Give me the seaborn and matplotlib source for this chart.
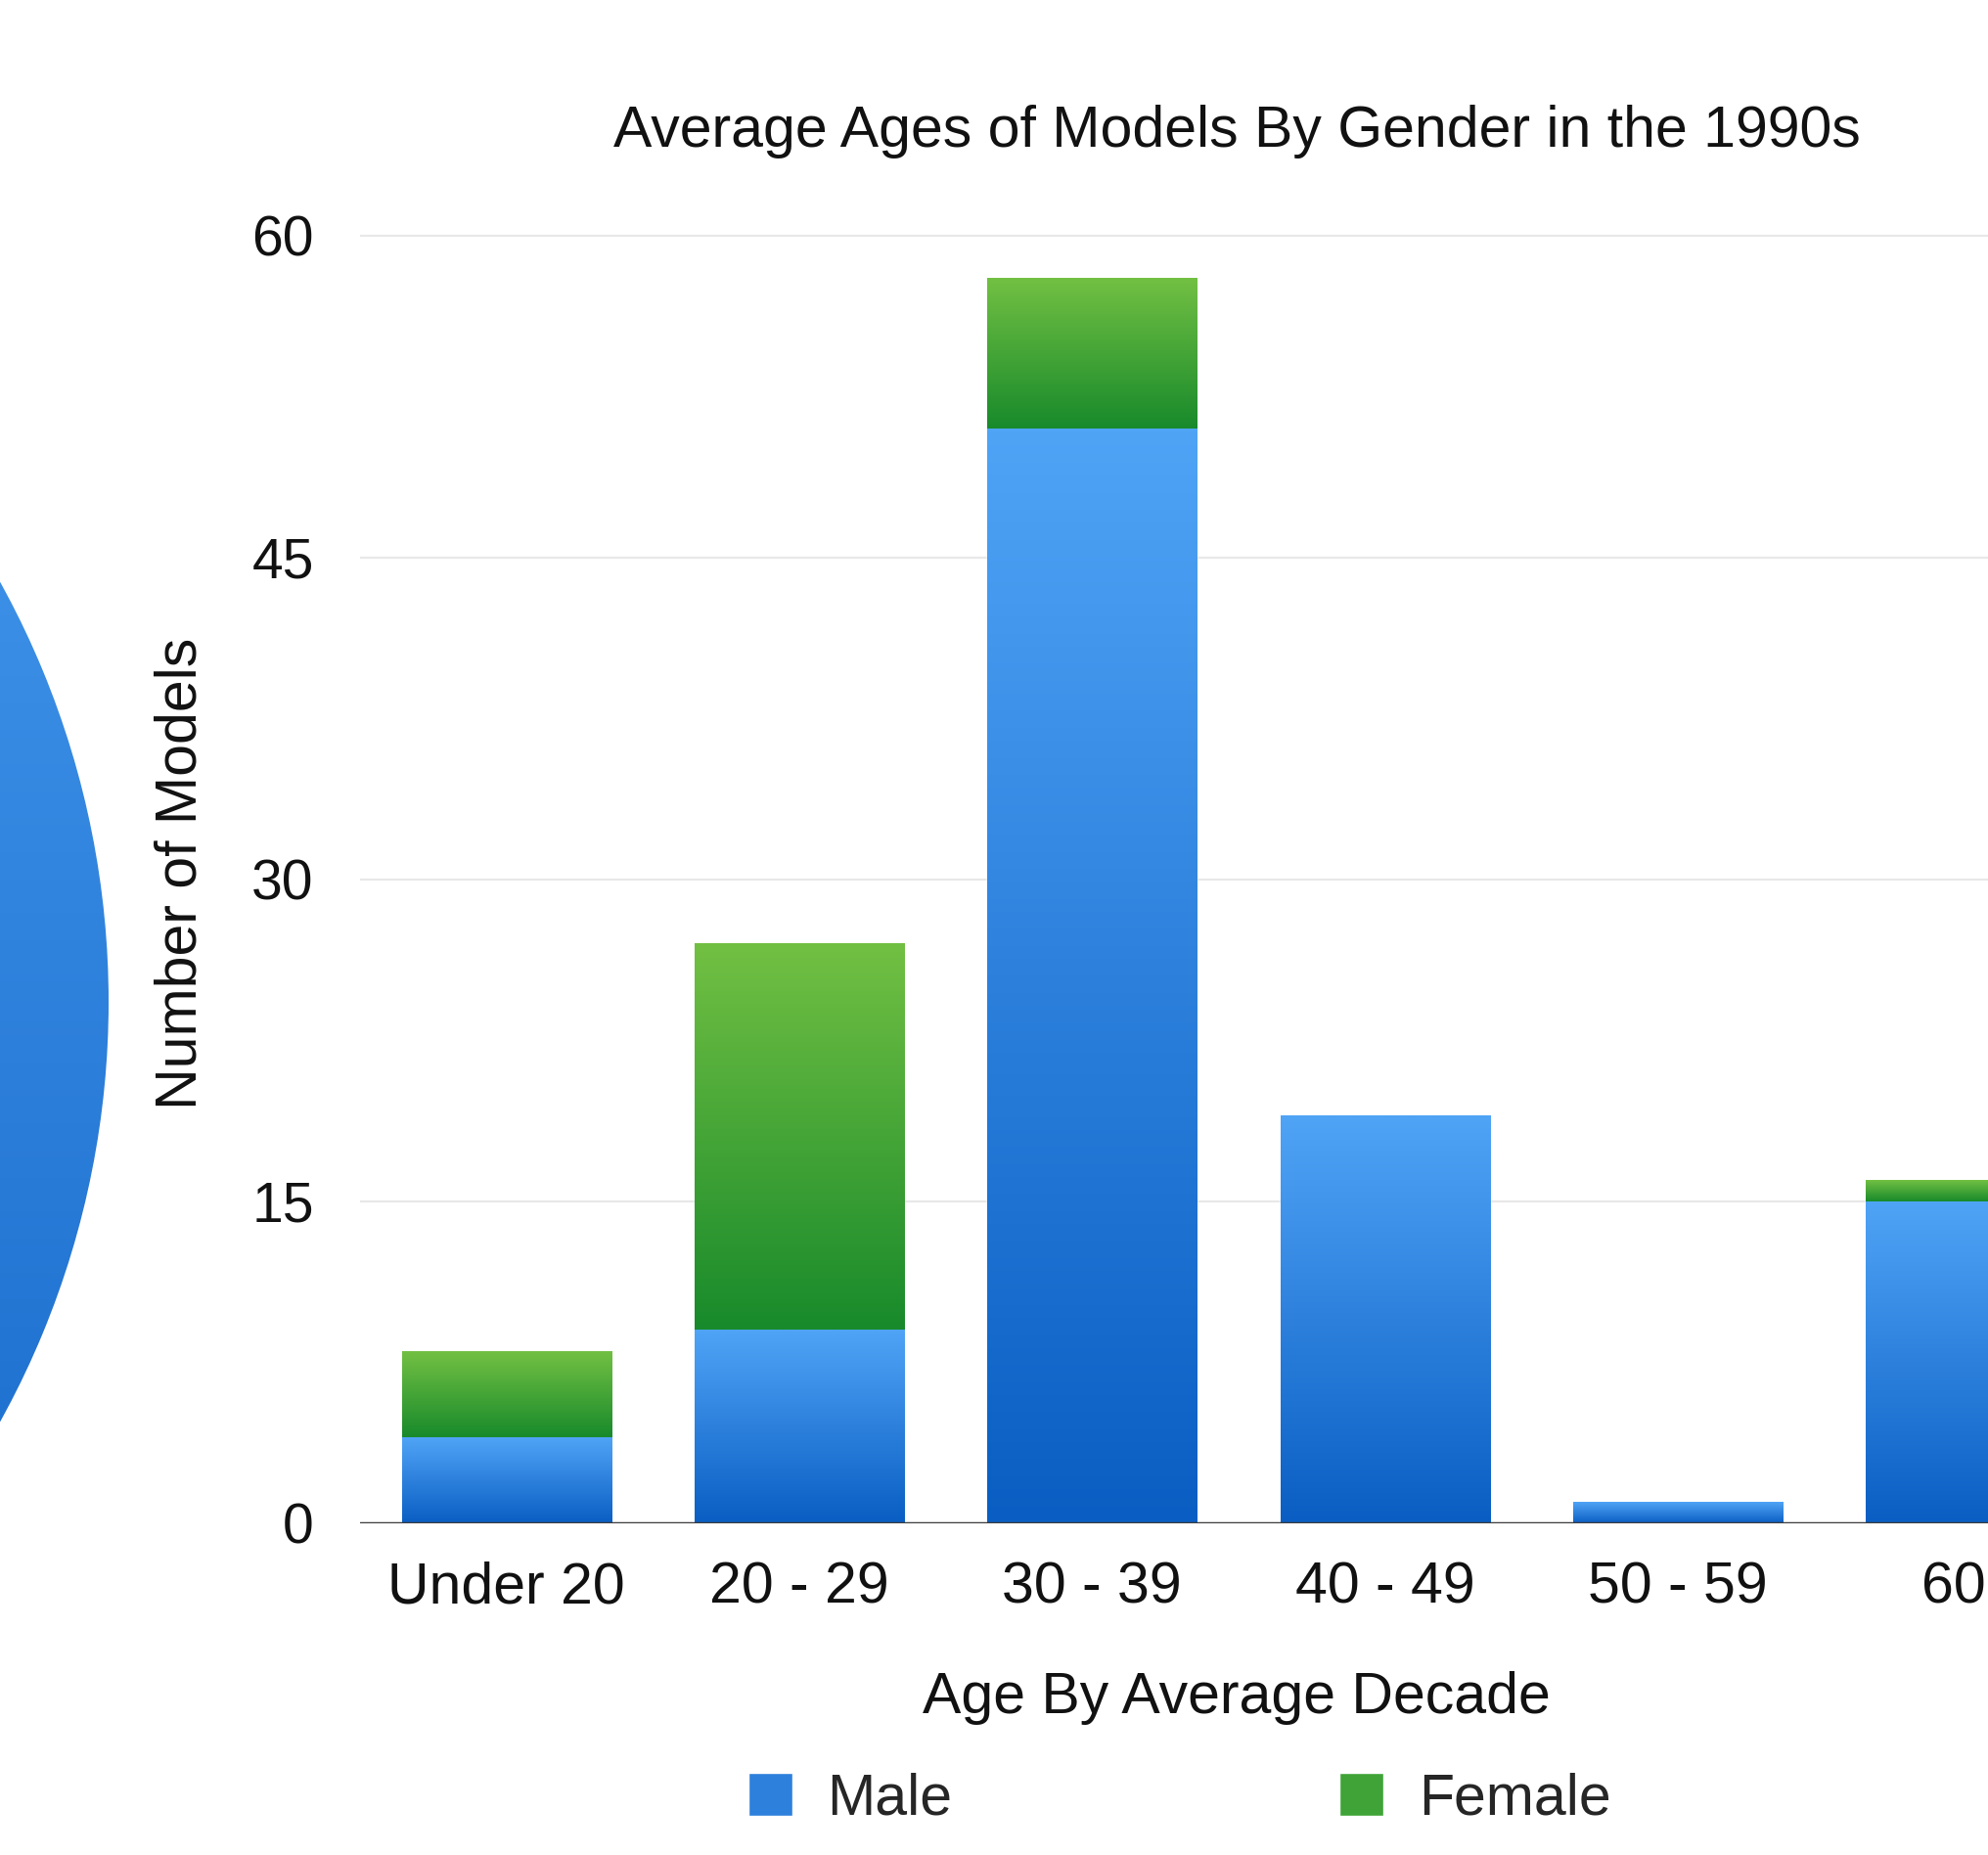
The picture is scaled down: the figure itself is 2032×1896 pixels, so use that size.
import numpy as np
import pandas as pd
import matplotlib
matplotlib.use("Agg")
import matplotlib.pyplot as plt
import seaborn as sns
from matplotlib.colors import to_rgb
from matplotlib.patches import Patch

# data
categories = ["Under 20", "20 - 29", "30 - 39", "40 - 49", "50 - 59", "60+"]
male = [4, 9, 51, 19, 1, 15]
female = [4, 18, 7, 0, 0, 1]
yticks = [0, 15, 30, 45, 60]

df = pd.DataFrame({"age": categories, "male": male, "female": female})
df["total"] = df["male"] + df["female"]

sns.set_theme(style="white")
plt.rcParams["font.family"] = ["Liberation Sans", "DejaVu Sans"]

MALE_TOP, MALE_BOT = "#50a4f6", "#0a5ec3"
FEM_TOP, FEM_BOT = "#72c043", "#188a2b"


def grad(top, bottom, n=256):
    t = np.linspace(0, 1, n)[:, None]
    a = np.array(to_rgb(top))
    b = np.array(to_rgb(bottom))
    return (a * (1 - t) + b * t)[:, None, :]


fig = plt.figure(figsize=(20.33, 18.96), dpi=100)

# the neighbouring pie, mostly off the page
pax = fig.add_axes([-0.817, -0.0074, 0.8716, 0.9346])
wedges, _ = pax.pie([1], colors=["#2d80dc"], radius=1)
im = pax.imshow(grad("#4a9ef1", "#1264c6"), extent=[-1, 1, -1, 1], aspect="auto", zorder=3)
im.set_clip_path(wedges[0])
pax.set_xlim(-1, 1)
pax.set_ylim(-1, 1)
pax.axis("off")

ax = fig.add_axes([0.181, 0.179, 0.819, 0.6975])
sns.barplot(data=df, x="age", y="total", color="#3fa337", width=0.715,
            saturation=1, errorbar=None, ax=ax)
sns.barplot(data=df, x="age", y="male", color="#2d80dc", width=0.715,
            saturation=1, errorbar=None, ax=ax)

n = len(categories)
tot_bars = ax.patches[:n]
male_bars = ax.patches[n:2 * n]
for tb, mb in zip(tot_bars, male_bars):
    x0, w = tb.get_x(), tb.get_width()
    m, t = mb.get_height(), tb.get_height()
    if t > m:
        ax.imshow(grad(FEM_TOP, FEM_BOT), extent=[x0, x0 + w, m, t], aspect="auto", zorder=3)
    if m > 0:
        ax.imshow(grad(MALE_TOP, MALE_BOT), extent=[x0, x0 + w, 0, m], aspect="auto", zorder=3)

ax.set_xlim(-0.5, 5.063)
ax.set_ylim(0, 60.3)
ax.set_yticks(yticks)
ax.yaxis.grid(True, color="#e8e8e8", lw=1.6)
ax.set_axisbelow(True)
ax.axhline(0, color="#3c3c3c", lw=2.5, zorder=5)
sns.despine(ax=ax, left=True, bottom=True)

ax.tick_params(axis="y", length=0, pad=34, labelsize=41, labelcolor="#111111")
ax.tick_params(axis="x", length=0, pad=28, labelsize=42.5, labelcolor="#111111")

ax.set_xlabel("Age By Average Decade", fontsize=42.5, color="#111111")
ax.xaxis.set_label_coords(0.538, -0.135)
ax.xaxis.label.set_va("center")
ax.set_ylabel("Number of Models", fontsize=42.5, color="#111111")
ax.yaxis.set_label_coords(-0.11, 0.502)
ax.yaxis.label.set_va("center")

fig.text(0.622, 0.929, "Average Ages of Models By Gender in the 1990s",
         ha="center", va="center", fontsize=42.5, color="#111111")

handles = [Patch(facecolor="#2d80dc", label="Male"),
           Patch(facecolor="#3fa337", label="Female")]
fig.legend(handles=handles, loc="center", bbox_to_anchor=(0.593, 0.030), ncol=2,
           frameon=False, fontsize=42.5, handlelength=0.76, handleheight=0.76,
           handletextpad=0.61, columnspacing=6.7, borderpad=0)

fig.savefig("out.png", dpi=100)
